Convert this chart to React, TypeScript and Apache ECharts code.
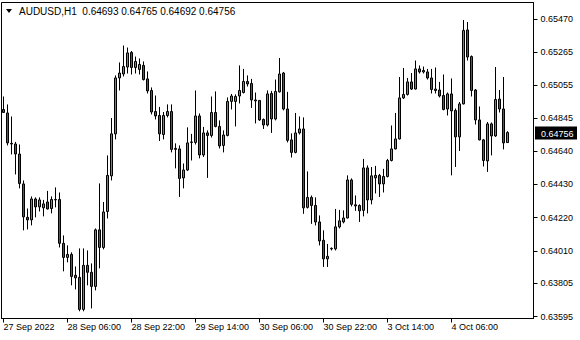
import { useEffect, useRef } from 'react';
import * as echarts from 'echarts';

const symbolName = 'AUDUSD,H1';
const tickLabels = ['27 Sep 2022', '28 Sep 06:00', '28 Sep 22:00', '29 Sep 14:00', '30 Sep 06:00', '30 Sep 22:00', '3 Oct 14:00', '4 Oct 06:00'];
const TICK_STEP = 16;
const EMPTY_BARS = 6;
const priceTicks = [0.6547, 0.65265, 0.65055, 0.64845, 0.6464, 0.6443, 0.6422, 0.6401, 0.63805, 0.63595];
const Y_MIN = 0.635824;
const Y_MAX = 0.655773;

const opens = [
  0.64902, 0.64880, 0.64688, 0.64684, 0.64621, 0.64432, 0.64221, 0.64205, 0.64337, 0.64287,
  0.64281, 0.64318, 0.64277, 0.64334, 0.64334, 0.64057, 0.63968, 0.63987, 0.63855, 0.63842,
  0.63640, 0.63918, 0.63874, 0.63785, 0.64142, 0.64031, 0.64258, 0.64483, 0.64748, 0.65101,
  0.65126, 0.65170, 0.65262, 0.65167, 0.65155, 0.65180, 0.65095, 0.65022, 0.64889, 0.64864,
  0.64744, 0.64864, 0.64889, 0.64656, 0.64653, 0.64470, 0.64520, 0.64697, 0.64694, 0.64861,
  0.64615, 0.64754, 0.64738, 0.64883, 0.64795, 0.64675, 0.64738, 0.64953, 0.64953, 0.64987,
  0.65009, 0.65079, 0.65066, 0.64962, 0.64959, 0.64839, 0.64804, 0.65003, 0.64842, 0.65013,
  0.65132, 0.64905, 0.64710, 0.64631, 0.64754, 0.64779, 0.64284, 0.64347, 0.64296, 0.64192,
  0.64076, 0.63959, 0.64025, 0.64022, 0.64161, 0.64192, 0.64217, 0.64457, 0.64300, 0.64296,
  0.64265, 0.64533, 0.64331, 0.64470, 0.64486, 0.64432, 0.64479, 0.64580, 0.64653, 0.64716,
  0.64975, 0.64997, 0.65076, 0.65031, 0.65158, 0.65139, 0.65139, 0.65101, 0.65022, 0.65025,
  0.64990, 0.64905, 0.65000, 0.64896, 0.64729, 0.64937, 0.65404, 0.65236, 0.65025, 0.64836,
  0.64710, 0.64577, 0.64811, 0.64735, 0.64968, 0.64905, 0.64693,
];

const closes = [
  0.64883, 0.64691, 0.64684, 0.64621, 0.64435, 0.64224, 0.64205, 0.64337, 0.64287, 0.64331,
  0.64306, 0.64274, 0.64334, 0.64331, 0.64057, 0.63968, 0.63987, 0.63848, 0.63839, 0.63640,
  0.63918, 0.63874, 0.63785, 0.64142, 0.64031, 0.64255, 0.64486, 0.64748, 0.65101, 0.65132,
  0.65173, 0.65259, 0.65167, 0.65205, 0.65186, 0.65091, 0.65019, 0.64886, 0.64861, 0.64748,
  0.64864, 0.64889, 0.64650, 0.64650, 0.64467, 0.64520, 0.64691, 0.64694, 0.64861, 0.64615,
  0.64754, 0.64738, 0.64883, 0.64795, 0.64672, 0.64741, 0.64953, 0.64987, 0.64984, 0.65022,
  0.65079, 0.65063, 0.64962, 0.64956, 0.64836, 0.64804, 0.65000, 0.64842, 0.65016, 0.65126,
  0.64905, 0.64707, 0.64631, 0.64754, 0.64779, 0.64281, 0.64347, 0.64296, 0.64192, 0.64072,
  0.63959, 0.63975, 0.64022, 0.64161, 0.64199, 0.64217, 0.64457, 0.64303, 0.64293, 0.64262,
  0.64533, 0.64331, 0.64483, 0.64486, 0.64432, 0.64479, 0.64580, 0.64653, 0.64716, 0.64975,
  0.64997, 0.65076, 0.65031, 0.65158, 0.65139, 0.65148, 0.65101, 0.65028, 0.65031, 0.64987,
  0.64902, 0.65000, 0.64893, 0.64729, 0.64937, 0.65401, 0.65233, 0.65022, 0.64836, 0.64710,
  0.64580, 0.64811, 0.64735, 0.64965, 0.64905, 0.64691, 0.64756,
];

const lows = [
  0.64880, 0.64675, 0.64618, 0.64492, 0.64404, 0.64139, 0.64145, 0.64170, 0.64221, 0.64258,
  0.64227, 0.64271, 0.64246, 0.64284, 0.64031, 0.63880, 0.63937, 0.63792, 0.63766, 0.63628,
  0.63628, 0.63792, 0.63646, 0.63760, 0.63899, 0.64019, 0.64214, 0.64454, 0.64713, 0.65022,
  0.65110, 0.65129, 0.65123, 0.65129, 0.65123, 0.65085, 0.65003, 0.64871, 0.64839, 0.64703,
  0.64713, 0.64852, 0.64631, 0.64530, 0.64350, 0.64404, 0.64514, 0.64580, 0.64681, 0.64593,
  0.64602, 0.64470, 0.64725, 0.64789, 0.64656, 0.64631, 0.64732, 0.64902, 0.64795, 0.64940,
  0.65003, 0.65047, 0.64912, 0.64814, 0.64830, 0.64779, 0.64795, 0.64754, 0.64833, 0.65009,
  0.64896, 0.64694, 0.64599, 0.64625, 0.64744, 0.64243, 0.64277, 0.64180, 0.64170, 0.64044,
  0.63908, 0.63908, 0.64012, 0.64012, 0.64151, 0.64183, 0.64214, 0.64290, 0.64262, 0.64192,
  0.64227, 0.64246, 0.64303, 0.64372, 0.64350, 0.64378, 0.64473, 0.64574, 0.64650, 0.64713,
  0.64968, 0.64990, 0.65025, 0.65028, 0.65129, 0.65129, 0.65091, 0.65003, 0.65003, 0.64978,
  0.64896, 0.64864, 0.64486, 0.64539, 0.64640, 0.64934, 0.65211, 0.64984, 0.64807, 0.64707,
  0.64542, 0.64508, 0.64612, 0.64729, 0.64883, 0.64650, 0.64692,
];

const highs = [
  0.64984, 0.64934, 0.64858, 0.64697, 0.64681, 0.64454, 0.64277, 0.64353, 0.64347, 0.64347,
  0.64331, 0.64388, 0.64353, 0.64410, 0.64378, 0.64107, 0.64044, 0.64000, 0.63911, 0.64025,
  0.64025, 0.64012, 0.63930, 0.64151, 0.64435, 0.64318, 0.64612, 0.64848, 0.65117, 0.65199,
  0.65306, 0.65293, 0.65271, 0.65236, 0.65224, 0.65205, 0.65142, 0.65041, 0.64990, 0.64918,
  0.64886, 0.64934, 0.64934, 0.64688, 0.64675, 0.64561, 0.64789, 0.64748, 0.65022, 0.64877,
  0.64792, 0.64770, 0.64984, 0.65016, 0.64833, 0.64770, 0.64978, 0.65000, 0.64997, 0.65180,
  0.65158, 0.65117, 0.65095, 0.65009, 0.64962, 0.64845, 0.65022, 0.65019, 0.65091, 0.65227,
  0.65139, 0.65013, 0.64751, 0.64880, 0.64858, 0.64852, 0.64511, 0.64359, 0.64347, 0.64233,
  0.64139, 0.64053, 0.64031, 0.64274, 0.64268, 0.64265, 0.64486, 0.64467, 0.64359, 0.64303,
  0.64590, 0.64549, 0.64539, 0.64546, 0.64495, 0.64527, 0.64590, 0.64801, 0.64880, 0.65107,
  0.65164, 0.65101, 0.65132, 0.65211, 0.65180, 0.65173, 0.65158, 0.65158, 0.65167, 0.65076,
  0.65123, 0.65009, 0.65098, 0.64908, 0.64949, 0.65467, 0.65454, 0.65243, 0.65031, 0.64921,
  0.64716, 0.64823, 0.64820, 0.65170, 0.65025, 0.65107, 0.64765,
];

const START_UTC = Date.UTC(2022, 8, 27, 14);
const MONTHS = ['Jan', 'Feb', 'Mar', 'Apr', 'May', 'Jun', 'Jul', 'Aug', 'Sep', 'Oct', 'Nov', 'Dec'];

function buildTimes(n: number): string[] {
  const out: string[] = [];
  let t = START_UTC;
  while (out.length < n) {
    const d = new Date(t);
    const wd = d.getUTCDay();
    if (wd !== 0 && wd !== 6) {
      const hh = String(d.getUTCHours()).padStart(2, '0');
      out.push(`${d.getUTCDate()} ${MONTHS[d.getUTCMonth()]} ${hh}:00`);
    }
    t += 3600000;
  }
  return out;
}

const FONT = '"Liberation Sans", Arial, sans-serif';
const UP = '#33b233';
const DOWN = '#dc1e1e';

export default function App() {
  const ref = useRef<HTMLDivElement>(null);
  useEffect(() => {
    if (!ref.current) return;
    const chart = echarts.init(ref.current, undefined, { renderer: 'svg' });
    const n = opens.length;
    const times = buildTimes(n + EMPTY_BARS);
    const candles = opens.map((o, i) => [o, closes[i], lows[i], highs[i]]);
    const last = n - 1;
    const fmt = (v: number) => v.toFixed(5);
    const showTick = (i: number) => i % TICK_STEP === 0 && i / TICK_STEP < tickLabels.length;

    const titleGraphics = [
      {
        id: 'tri',
        type: 'polygon',
        shape: { points: [[6, 9], [12, 9], [9, 13]] },
        style: { fill: '#000' },
        silent: true,
      },
      {
        id: 'title',
        type: 'text',
        x: 19,
        y: 11,
        style: {
          text: `${symbolName}  ${fmt(opens[last])} ${fmt(highs[last])} ${fmt(lows[last])} ${fmt(closes[last])}`,
          fill: '#000',
          font: `10px ${FONT}`,
          verticalAlign: 'middle',
        },
        silent: true,
      },
    ];

    chart.setOption({
      animation: false,
      backgroundColor: '#ffffff',
      grid: {
        left: 1.5,
        right: 46.5,
        top: 2.5,
        bottom: 21.5,
        show: true,
        borderColor: '#000',
        borderWidth: 1,
        backgroundColor: '#fff',
      },
      xAxis: {
        type: 'category',
        data: times,
        boundaryGap: true,
        axisLine: { show: true, lineStyle: { color: '#000', width: 1 } },
        axisTick: {
          show: true,
          alignWithLabel: true,
          length: 4,
          interval: (i: number) => showTick(i),
          lineStyle: { color: '#000' },
        },
        axisLabel: {
          interval: (i: number) => showTick(i),
          formatter: (_v: string, i: number) => (showTick(i) ? tickLabels[i / TICK_STEP] : ''),
          align: 'left',
          margin: 4,
          color: '#000',
          fontSize: 9,
          fontFamily: FONT,
        },
        splitLine: { show: false },
      },
      yAxis: {
        type: 'value',
        position: 'right',
        min: Y_MIN,
        max: Y_MAX,
        scale: true,
        axisLine: { show: true, lineStyle: { color: '#000', width: 1 } },
        axisTick: {
          show: true,
          length: 4,
          customValues: priceTicks,
          lineStyle: { color: '#000' },
        },
        axisLabel: {
          customValues: priceTicks,
          formatter: (v: number) => fmt(v),
          margin: 7,
          color: '#000',
          fontSize: 9,
          fontFamily: FONT,
        },
        splitLine: { show: false },
      },
      series: [
        {
          type: 'candlestick',
          data: candles,
          barWidth: 2,
          silent: true,
          itemStyle: {
            color: UP,
            color0: DOWN,
            borderColor: '#000',
            borderColor0: '#000',
            borderWidth: 1,
          },
        },
      ],
      graphic: titleGraphics,
    });

    const py = chart.convertToPixel({ yAxisIndex: 0 }, closes[last]) as number;
    chart.setOption({
      graphic: [
        ...titleGraphics,
        {
          id: 'priceBox',
          type: 'rect',
          shape: { x: 535, y: Math.round(py) - 6.5, width: 42, height: 13 },
          style: { fill: '#000' },
          silent: true,
        },
        {
          id: 'priceText',
          type: 'text',
          x: 541,
          y: Math.round(py) + 0.5,
          style: {
            text: fmt(closes[last]),
            fill: '#fff',
            font: `9px ${FONT}`,
            verticalAlign: 'middle',
          },
          silent: true,
        },
      ],
    });
    return () => chart.dispose();
  }, []);

  return (
    <div
      ref={ref}
      style={{ position: 'fixed', left: 0, top: 0, width: 580, height: 340, background: '#fff' }}
    />
  );
}
